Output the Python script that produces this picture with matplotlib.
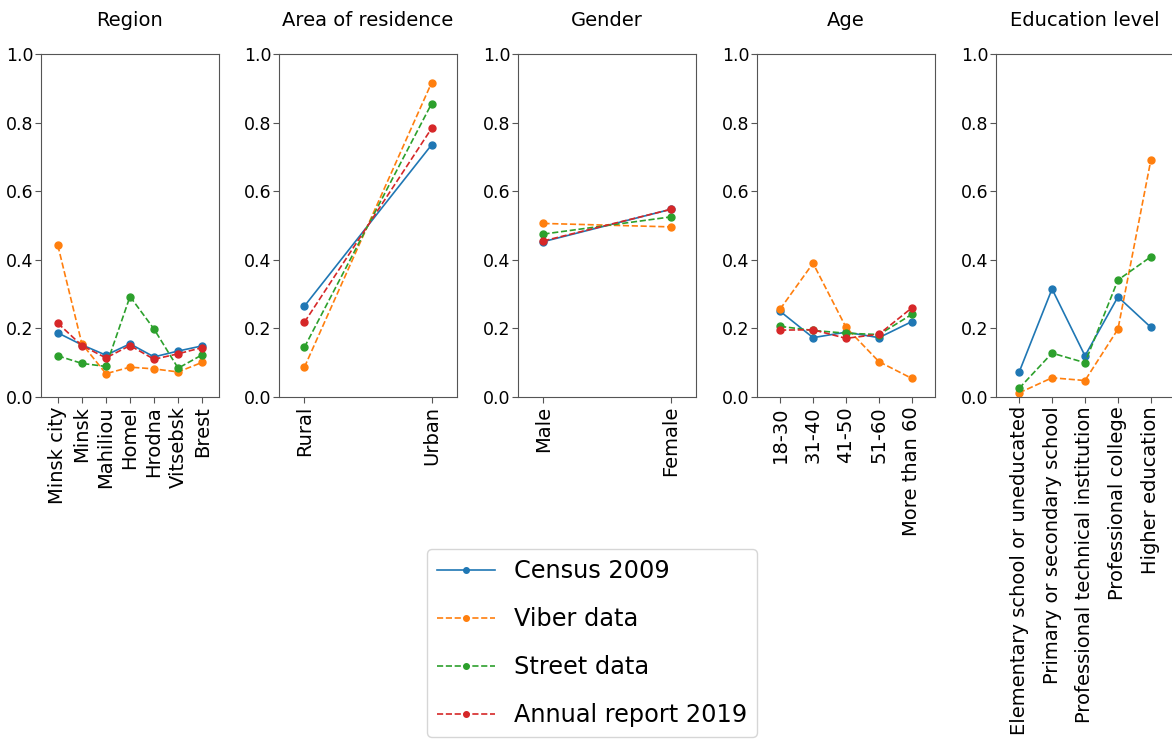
import matplotlib
matplotlib.use("Agg")
import matplotlib.pyplot as plt

# shares
region_labels = ["Minsk city", "Minsk", "Mahiliou", "Homel", "Hrodna", "Vitsebsk", "Brest"]
region_census = [0.187, 0.152, 0.122, 0.155, 0.117, 0.134, 0.149]
region_viber = [0.442, 0.155, 0.068, 0.087, 0.082, 0.073, 0.101]
region_street = [0.120, 0.098, 0.089, 0.293, 0.198, 0.084, 0.123]
region_annual = [0.215, 0.150, 0.114, 0.150, 0.110, 0.126, 0.144]

area_labels = ["Rural", "Urban"]
area_census = [0.265, 0.735]
area_viber = [0.087, 0.916]
area_street = [0.145, 0.855]
area_annual = [0.218, 0.783]

gender_labels = ["Male", "Female"]
gender_census = [0.453, 0.547]
gender_viber = [0.506, 0.496]
gender_street = [0.475, 0.525]
gender_annual = [0.455, 0.547]

age_labels = ["18-30", "31-40", "41-50", "51-60", "More than 60"]
age_census = [0.250, 0.173, 0.189, 0.173, 0.220]
age_viber = [0.256, 0.390, 0.203, 0.103, 0.054]
age_street = [0.206, 0.194, 0.186, 0.182, 0.241]
age_annual = [0.195, 0.196, 0.171, 0.183, 0.260]

edu_labels = ["Elementary school or uneducated", "Primary or secondary school",
              "Professional technical institution", "Professional college", "Higher education"]
edu_census = [0.072, 0.315, 0.120, 0.292, 0.203]
edu_viber = [0.012, 0.056, 0.048, 0.198, 0.692]
edu_street = [0.025, 0.128, 0.100, 0.341, 0.409]

panels = [
    ("Region", region_labels, [region_census, region_viber, region_street, region_annual], 0.7),
    ("Area of residence", area_labels, [area_census, area_viber, area_street, area_annual], 0.2),
    ("Gender", gender_labels, [gender_census, gender_viber, gender_street, gender_annual], 0.2),
    ("Age", age_labels, [age_census, age_viber, age_street, age_annual], 0.7),
    ("Education level", edu_labels, [edu_census, edu_viber, edu_street], 0.7),
]

series_names = ["Census 2009", "Viber data", "Street data", "Annual report 2019"]
colors = ["#1f77b4", "#ff7f0e", "#2ca02c", "#d62728"]
styles = ["-", "--", "--", "--"]

W, H = 1172, 744
fig = plt.figure(figsize=(W / 100, H / 100), dpi=100)
lefts = [41, 279, 518, 757, 996]
ax_w, top, bottom = 178, 54, 397

handles = []
for left, (title, labels, series, pad) in zip(lefts, panels):
    ax = fig.add_axes([left / W, (H - bottom) / H, ax_w / W, (bottom - top) / H])
    x = list(range(len(labels)))
    for i, vals in enumerate(series):
        (ln,) = ax.plot(x, vals, styles[i], color=colors[i], marker="o",
                        markersize=5, linewidth=1.2, label=series_names[i])
        if left == lefts[0]:
            handles.append(ln)
    ax.set_xlim(-pad, len(labels) - 1 + pad)
    ax.set_ylim(0, 1)
    ax.set_yticks([0, 0.2, 0.4, 0.6, 0.8, 1.0])
    ax.set_xticks(x)
    ax.set_xticklabels(labels, rotation=90, fontsize=14)
    ax.tick_params(axis="y", labelsize=12.5, length=4.5, pad=1, color="#555555")
    ax.tick_params(axis="x", length=4.5, pad=2, color="#555555")
    ax.set_title(title, fontsize=14, pad=20)
    for s in ax.spines.values():
        s.set_color("#555555")

fig.legend(handles=handles, loc="center", bbox_to_anchor=(592 / W, 1 - 643 / H),
           fontsize=17.3, labelspacing=1.0, handlelength=2.4, markerscale=0.8,
           frameon=True)

fig.savefig("out.png", dpi=100)
